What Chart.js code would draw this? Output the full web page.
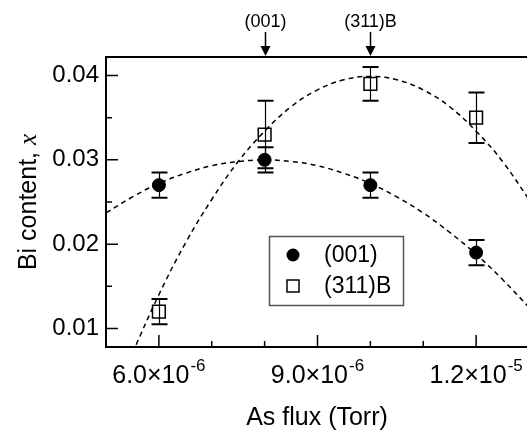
<!DOCTYPE html>
<html>
<head>
<meta charset="utf-8">
<script src="https://cdn.jsdelivr.net/npm/chart.js@4.4.0/dist/chart.umd.min.js"></script>
<style>
html, body { margin: 0; padding: 0; background: #fff; overflow: hidden; }
#wrap { width: 527px; height: 434px; overflow: hidden; }
canvas { display: block; }
</style>
</head>
<body>
<div id="wrap"><canvas id="bichart" width="540" height="434"></canvas></div>
<script>
// measured points
var asFlux  = [6e-6, 8e-6, 1e-5, 1.2e-5];
var bi001   = [0.027, 0.030, 0.027, 0.019];
var err001  = [0.0015, 0.0015, 0.0015, 0.0015];
var bi311B  = [0.012, 0.033, 0.039, 0.035];
var err311B = [0.0015, 0.004, 0.002, 0.003];

// dashed fit curves
var fitFlux001 = [5e-6, 5.5e-6, 6e-6, 6.5e-6, 7e-6, 7.5e-6, 8e-6, 8.5e-6, 9e-6,
                  9.5e-6, 1e-5, 1.05e-5, 1.1e-5, 1.15e-5, 1.2e-5, 1.25e-5, 1.3e-5];
var fit001     = [0.0237, 0.0256, 0.0272, 0.0284, 0.0293, 0.0298, 0.0300, 0.0298, 0.0293,
                  0.0284, 0.0272, 0.0256, 0.0237, 0.0214, 0.0188, 0.0158, 0.0125];
var fitFlux311B = [5.5e-6, 6e-6, 6.5e-6, 7e-6, 7.5e-6, 8e-6, 8.5e-6, 9e-6,
                   9.5e-6, 1e-5, 1.05e-5, 1.1e-5, 1.15e-5, 1.2e-5, 1.25e-5, 1.3e-5];
var fit311B     = [0.0071, 0.0140, 0.0201, 0.0253, 0.0298, 0.0334, 0.0363, 0.0383,
                   0.0395, 0.0399, 0.0395, 0.0383, 0.0363, 0.0334, 0.0298, 0.0253];

// axes
var xTicks      = [6e-6, 9e-6, 1.2e-5];
var xMinorTicks = [5e-6, 7e-6, 8e-6, 1e-5, 1.1e-5, 1.3e-5];
var yTicks      = [0.01, 0.02, 0.03, 0.04];
var yMinorTicks = [0.015, 0.025, 0.035];
var arrowFlux   = [8e-6, 1e-5];
var arrowLabels = ['(001)', '(311)B'];
var seriesNames = ['(001)', '(311)B'];

var FONT = '"Liberation Sans", Arial, Helvetica, sans-serif';

function toXY(xs, ys) {
    var out = [];
    for (var i = 0; i < xs.length; i++) out.push({x: xs[i], y: ys[i]});
    return out;
}

var decor = {
    id: 'decor',
    beforeDatasetsDraw: function (chart) {
        var ctx = chart.ctx, xs = chart.scales.x, ys = chart.scales.y;
        ctx.save();
        ctx.strokeStyle = '#000';
        function bars(vals, errs) {
            for (var i = 0; i < asFlux.length; i++) {
                var px = Math.round(xs.getPixelForValue(asFlux[i])) + 0.5;
                var top = ys.getPixelForValue(vals[i] + errs[i]);
                var bot = ys.getPixelForValue(vals[i] - errs[i]);
                ctx.lineWidth = 1.2;
                ctx.beginPath(); ctx.moveTo(px, top); ctx.lineTo(px, bot); ctx.stroke();
                ctx.lineWidth = 2;
                ctx.beginPath();
                ctx.moveTo(px - 8, top); ctx.lineTo(px + 8, top);
                ctx.moveTo(px - 8, bot); ctx.lineTo(px + 8, bot);
                ctx.stroke();
            }
        }
        bars(bi001, err001);
        bars(bi311B, err311B);
        ctx.restore();
    },
    afterDraw: function (chart) {
        var ctx = chart.ctx, a = chart.chartArea;
        var xs = chart.scales.x, ys = chart.scales.y;
        ctx.save();
        ctx.strokeStyle = '#000';
        ctx.fillStyle = '#000';

        // frame
        ctx.lineWidth = 2;
        ctx.strokeRect(a.left, a.top, a.right - a.left, a.bottom - a.top);

        // inward ticks
        ctx.lineWidth = 1.5;
        ctx.beginPath();
        xTicks.forEach(function (v) {
            var p = xs.getPixelForValue(v);
            ctx.moveTo(p, a.bottom); ctx.lineTo(p, a.bottom - 12);
        });
        xMinorTicks.forEach(function (v) {
            var p = xs.getPixelForValue(v);
            ctx.moveTo(p, a.bottom); ctx.lineTo(p, a.bottom - 6);
        });
        yTicks.forEach(function (v) {
            var p = ys.getPixelForValue(v);
            ctx.moveTo(a.left, p); ctx.lineTo(a.left + 12, p);
        });
        yMinorTicks.forEach(function (v) {
            var p = ys.getPixelForValue(v);
            ctx.moveTo(a.left, p); ctx.lineTo(a.left + 6, p);
        });
        ctx.stroke();

        // x tick labels with exponents
        ctx.textBaseline = 'alphabetic';
        ctx.textAlign = 'left';
        xTicks.forEach(function (v) {
            var parts = v.toExponential(1).split('e');
            var main = parts[0] + '\u00d710';
            var sup = parts[1];
            ctx.font = '25px ' + FONT;
            var w1 = ctx.measureText(main).width;
            ctx.font = '17px ' + FONT;
            var w2 = ctx.measureText(sup).width;
            var x0 = xs.getPixelForValue(v) - (w1 + w2 + 1) / 2;
            ctx.font = '25px ' + FONT;
            ctx.fillText(main, x0, a.bottom + 36);
            ctx.font = '17px ' + FONT;
            ctx.fillText(sup, x0 + w1 + 1, a.bottom + 24);
        });

        // x title
        ctx.font = '25px ' + FONT;
        ctx.textAlign = 'center';
        ctx.fillText('As flux (Torr)', 317, 425);

        // y title, italic x
        ctx.save();
        ctx.translate(36, (a.top + a.bottom) / 2);
        ctx.rotate(-Math.PI / 2);
        ctx.font = '25px ' + FONT;
        var t1 = 'Bi content, ';
        var w = ctx.measureText(t1).width;
        ctx.font = 'italic 25px "Liberation Serif", "Times New Roman", serif';
        var wx = ctx.measureText('x').width;
        var sx = -(w + wx) / 2;
        ctx.textAlign = 'left';
        ctx.font = '25px ' + FONT;
        ctx.fillText(t1, sx, 0);
        ctx.font = 'italic 25px "Liberation Serif", "Times New Roman", serif';
        ctx.fillText('x', sx + w, 0);
        ctx.restore();

        // arrows above the frame
        ctx.font = '18px ' + FONT;
        ctx.textAlign = 'center';
        arrowFlux.forEach(function (v, i) {
            var p = Math.round(xs.getPixelForValue(v)) + 0.5;
            ctx.fillText(arrowLabels[i], p, 27);
            ctx.lineWidth = 1.5;
            ctx.beginPath(); ctx.moveTo(p, 32); ctx.lineTo(p, a.top - 6); ctx.stroke();
            ctx.beginPath();
            ctx.moveTo(p - 5, a.top - 11);
            ctx.lineTo(p + 5, a.top - 11);
            ctx.lineTo(p, a.top - 1);
            ctx.closePath();
            ctx.fill();
        });

        // legend box
        ctx.lineWidth = 1.5;
        ctx.strokeStyle = '#555';
        ctx.strokeRect(269.5, 236.5, 134, 69);
        ctx.strokeStyle = '#000';
        ctx.beginPath(); ctx.arc(293, 255, 6.5, 0, Math.PI * 2); ctx.fill();
        ctx.lineWidth = 1.5;
        ctx.strokeRect(287, 280, 12, 12);
        ctx.font = '23px ' + FONT;
        ctx.textAlign = 'left';
        ctx.textBaseline = 'middle';
        ctx.fillText(seriesNames[0], 324, 256);
        ctx.fillText(seriesNames[1], 324, 287);
        ctx.restore();
    }
};

var chartdata = {
    datasets: [
        {
            label: 'fit (001)',
            data: toXY(fitFlux001, fit001),
            showLine: true,
            borderColor: '#000',
            borderWidth: 1.5,
            borderDash: [5, 4],
            pointRadius: 0,
            tension: 0.4
        },
        {
            label: 'fit (311)B',
            data: toXY(fitFlux311B, fit311B),
            showLine: true,
            borderColor: '#000',
            borderWidth: 1.5,
            borderDash: [5, 4],
            pointRadius: 0,
            tension: 0.4
        },
        {
            label: seriesNames[0],
            data: toXY(asFlux, bi001),
            showLine: false,
            pointStyle: 'circle',
            pointRadius: 6.5,
            backgroundColor: '#000',
            borderColor: '#000',
            borderWidth: 1
        },
        {
            label: seriesNames[1],
            data: toXY(asFlux, bi311B),
            showLine: false,
            pointStyle: 'rect',
            pointRadius: 9,
            backgroundColor: 'rgba(0,0,0,0)',
            borderColor: '#000',
            borderWidth: 1.5
        }
    ]
};

var ctx = document.getElementById('bichart');
var biChart = new Chart(ctx, {
    type: 'scatter',
    data: chartdata,
    plugins: [decor],
    options: {
        responsive: false,
        animation: false,
        devicePixelRatio: 1,
        layout: { padding: { top: 57, right: 11, left: 0, bottom: 0 } },
        plugins: { legend: { display: false }, tooltip: { enabled: false } },
        scales: {
            x: {
                type: 'linear',
                min: 5e-6,
                max: 1.3e-5,
                grid: { display: false },
                border: { display: false },
                ticks: { display: false },
                afterFit: function (s) { s.height = 87; }
            },
            y: {
                min: 0.0078,
                max: 0.0422,
                grid: { display: false, drawTicks: false },
                border: { display: false },
                afterBuildTicks: function (s) {
                    s.ticks = yTicks.map(function (v) { return {value: v}; });
                },
                ticks: {
                    color: '#000',
                    padding: 7,
                    font: { family: FONT, size: 24 },
                    callback: function (v) { return v.toFixed(2); }
                },
                afterFit: function (s) { s.width = 106; }
            }
        }
    }
});
</script>
</body>
</html>
